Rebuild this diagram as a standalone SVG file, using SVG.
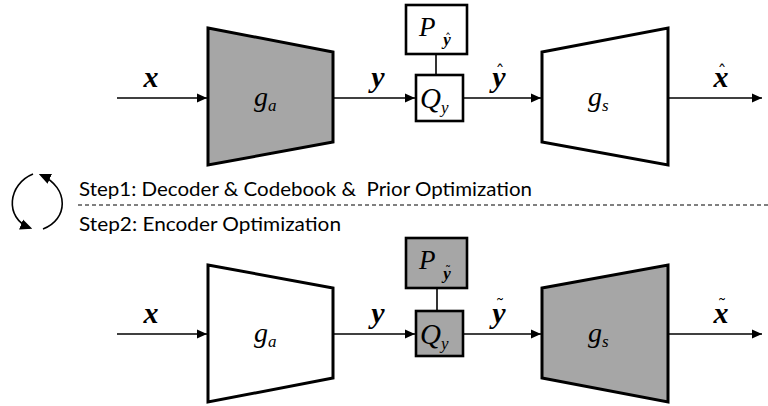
<svg xmlns="http://www.w3.org/2000/svg" width="768" height="406" viewBox="0 0 768 406">
<style>
.blk{stroke:#000;stroke-width:3;stroke-linejoin:miter}
.box{stroke:#000;stroke-width:2.6}
.g{fill:#a6a6a6}
.w{fill:#fff}
.ln{stroke:#000;stroke-width:1.6;fill:none}
.m{font-family:"Liberation Serif","DejaVu Serif",serif;font-style:italic;fill:#000}
.v{font-family:"Liberation Serif","DejaVu Serif",serif;font-style:italic;font-weight:bold;fill:#000;font-size:30px;text-anchor:middle}
.sv{font-family:"Liberation Serif","DejaVu Serif",serif;font-style:italic;font-weight:bold;fill:#000;font-size:17px;text-anchor:middle}
.acc{font-family:"DejaVu Serif",serif;fill:#000;font-size:18px;text-anchor:middle}
.sacc{font-family:"DejaVu Serif",serif;fill:#000;font-size:12px;text-anchor:middle}
.st{font-family:Lato,"Open Sans","Liberation Sans",sans-serif;font-size:19px;fill:#000}
</style>
<defs>
<marker id="ah" viewBox="0 0 10 10" refX="10" refY="5" markerWidth="10" markerHeight="10" markerUnits="userSpaceOnUse" orient="auto">
<path d="M0,0.5 L10,5 L0,9.5 z" fill="#000"/>
</marker>
<marker id="ah2" viewBox="0 0 10 10" refX="8" refY="5" markerWidth="12" markerHeight="12" markerUnits="userSpaceOnUse" orient="auto">
<path d="M0,0.5 L10,5 L0,9.5 z" fill="#000"/>
</marker>
</defs>

<g id="connectors">
<line class="ln" x1="117" y1="98" x2="207" y2="98" marker-end="url(#ah)"/>
<line class="ln" x1="334" y1="98" x2="415" y2="98" marker-end="url(#ah)"/>
<line class="ln" x1="436" y1="54" x2="436" y2="75"/>
<line class="ln" x1="464" y1="98" x2="541" y2="98" marker-end="url(#ah)"/>
<line class="ln" x1="669" y1="98" x2="762" y2="98" marker-end="url(#ah)"/>

<line class="ln" x1="117" y1="334" x2="207" y2="334" marker-end="url(#ah)"/>
<line class="ln" x1="334" y1="334" x2="415" y2="334" marker-end="url(#ah)"/>
<line class="ln" x1="437" y1="289" x2="437" y2="311"/>
<line class="ln" x1="464" y1="334" x2="541" y2="334" marker-end="url(#ah)"/>
<line class="ln" x1="669" y1="334" x2="762" y2="334" marker-end="url(#ah)"/>

<path class="ln" d="M33,174 C8,184 4,218 30,228" marker-end="url(#ah2)"/>
<path class="ln" d="M43,229 C68,220 70,188 41,175" marker-end="url(#ah2)"/>
<line x1="78" y1="205" x2="768" y2="205" stroke="#000" stroke-width="1" stroke-dasharray="4,3"/>
</g>

<g id="ga-top">
<polygon class="blk g" points="208,28 333,52 333,142 208,165"/>
<text class="m" x="254" y="106" font-size="28">g<tspan font-size="17" dy="5">a</tspan></text>
</g>
<g id="q-top">
<rect class="box w" x="416" y="75" width="47" height="46"/>
<text class="m" x="420" y="108" font-size="29">Q<tspan font-size="17" dy="5">y</tspan></text>
</g>
<g id="p-top">
<rect class="box w" x="406" y="5" width="61" height="49"/>
<text class="m" x="419" y="36" font-size="27">P</text>
<text class="sv" x="447" y="45">y</text>
<text class="sacc" x="448" y="43">ˆ</text>
</g>
<g id="gs-top">
<polygon class="blk w" points="542,52 668,28 668,165 542,142"/>
<text class="m" x="588" y="106" font-size="28">g<tspan font-size="17" dy="5">s</tspan></text>
</g>

<g id="labels-top">
<text class="v" x="151" y="87">x</text>
<text class="v" x="378" y="87">y</text>
<text class="v" x="499" y="87">y</text>
<text class="acc" x="500" y="79">ˆ</text>
<text class="v" x="721" y="87">x</text>
<text class="acc" x="722" y="79">ˆ</text>
</g>

<g id="steps">
<text class="st" x="79" y="196" textLength="453" lengthAdjust="spacingAndGlyphs" xml:space="preserve">Step1: Decoder &amp; Codebook &amp;  Prior Optimization</text>
<text class="st" x="79" y="231" textLength="262" lengthAdjust="spacingAndGlyphs">Step2: Encoder Optimization</text>
</g>

<g id="ga-bot">
<polygon class="blk w" points="208,265 333,288 333,378 208,402"/>
<text class="m" x="254" y="342" font-size="28">g<tspan font-size="17" dy="5">a</tspan></text>
</g>
<g id="q-bot">
<rect class="box g" x="416" y="311" width="47" height="45"/>
<text class="m" x="420" y="344" font-size="29">Q<tspan font-size="17" dy="5">y</tspan></text>
</g>
<g id="p-bot">
<rect class="box g" x="406" y="238" width="61" height="50"/>
<text class="m" x="419" y="269" font-size="27">P</text>
<text class="sv" x="447" y="279">y</text>
<text class="sacc" x="448" y="275">˜</text>
</g>
<g id="gs-bot">
<polygon class="blk g" points="542,288 668,265 668,402 542,378"/>
<text class="m" x="588" y="342" font-size="28">g<tspan font-size="17" dy="5">s</tspan></text>
</g>

<g id="labels-bot">
<text class="v" x="151" y="323">x</text>
<text class="v" x="378" y="323">y</text>
<text class="v" x="499" y="323">y</text>
<text class="acc" x="500" y="312">˜</text>
<text class="v" x="721" y="323">x</text>
<text class="acc" x="722" y="312">˜</text>
</g>
</svg>
